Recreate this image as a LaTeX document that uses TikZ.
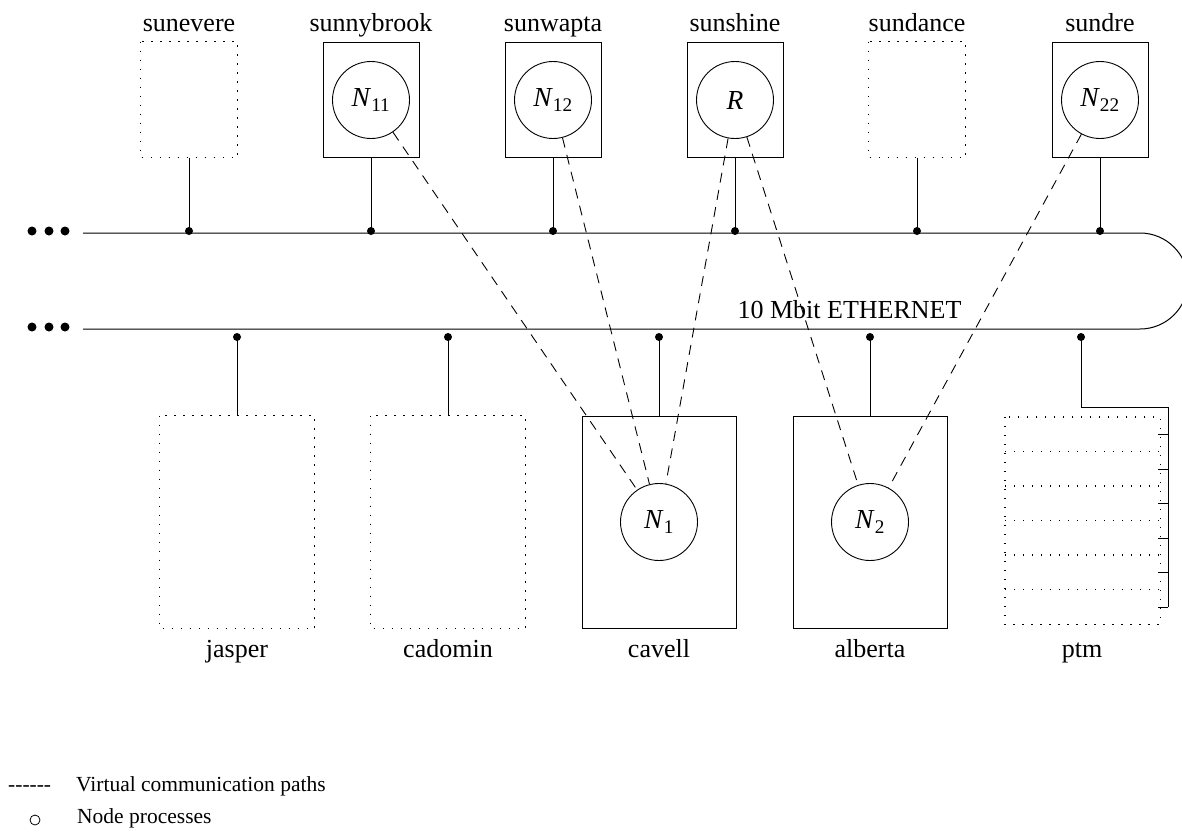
\documentclass[tikz,border=0pt]{standalone}
\usepackage{fontspec}
\setmainfont{Liberation Serif}
\newcommand{\procname}[2]{\textit{#1}\textsubscript{#2}}
\begin{document}
\begin{tikzpicture}[x=1pt,y=1pt,
  lbl/.style={font=\fontsize{26}{31}\selectfont, anchor=base, inner sep=0pt},
  keytext/.style={font=\fontsize{21.5}{25}\selectfont, anchor=base west, inner sep=0pt},
  wire/.style={line width=1pt},
  host/.style={draw, line width=1pt, minimum width=96pt, minimum height=115pt, inner sep=0pt},
  bighost/.style={draw, line width=1pt, minimum width=154pt, minimum height=212pt, inner sep=0pt},
  idle/.style={line width=1.4pt, dash pattern=on 1.4pt off 7.6pt},
  proc/.style={circle, draw, line width=0.9pt, minimum size=77pt, inner sep=0pt,
               font=\fontsize{27.5}{32}\selectfont},
  tap/.style={circle, fill, inner sep=0pt, minimum size=8pt},
  more/.style={circle, fill, inner sep=0pt, minimum size=9pt},
  vpath/.style={line width=0.9pt, dash pattern=on 10pt off 7.5pt}]

\useasboundingbox (0,0) rectangle (1182,-838);

% ---------- the Ethernet cable ----------
\draw[wire] (83,-233) -- (1140,-233) arc[start angle=90, end angle=-90, radius=48] -- (83,-329);
\foreach \y [count=\r] in {-231,-327}
  \foreach \x [count=\c] in {32,49,65}
    \node[more] (more\r\c) at (\x,\y) {};
\node[lbl] (eth) at (849.5,-318) {10 Mbit ETHERNET};

% ---------- hosts above the cable ----------
\foreach \x/\n in {189/sunevere, 371/sunnybrook, 553/sunwapta, 735/sunshine, 917/sundance, 1100/sundre}
  \node[lbl] (\n-name) at (\x,-31) {\n};

\node[host, draw=none] (sunevere) at (189,-99.5) {};
\draw[idle] (sunevere.north west) rectangle (sunevere.south east);
\node[host] (sunnybrook) at (371,-99.5) {};
\node[host] (sunwapta) at (553,-99.5) {};
\node[host] (sunshine) at (735,-99.5) {};
\node[host, draw=none] (sundance) at (917,-99.5) {};
\draw[idle] (sundance.north west) rectangle (sundance.south east);
\node[host] (sundre) at (1100,-99.5) {};

\node[proc] (N11) at (371,-100) {\procname{N}{11}};
\node[proc] (N12) at (553,-100) {\procname{N}{12}};
\node[proc] (R)   at (735,-100) {\textit{R}};
\node[proc] (N22) at (1100,-100) {\procname{N}{22}};

\foreach \x/\n in {189/sunevere, 371/sunnybrook, 553/sunwapta, 735/sunshine, 917/sundance, 1100/sundre} {
  \node[tap] (tap-\n) at (\x,-231) {};
  \draw[wire] (\n.south) -- (tap-\n.center);
}

% ---------- hosts below the cable ----------
\foreach \x/\n in {237/jasper, 448/cadomin, 659/cavell, 870/alberta, 1082/ptm}
  \node[lbl] (\n-name) at (\x,-657) {\n};

\node[bighost, draw=none] (jasper) at (237,-522) {};
\draw[idle] (jasper.north west) rectangle (jasper.south east);
\node[bighost, draw=none] (cadomin) at (448,-522) {};
\draw[idle] (cadomin.north west) rectangle (cadomin.south east);
\node[bighost] (cavell) at (659,-522) {};
\node[bighost] (alberta) at (870,-522) {};

\node[proc] (N1) at (659,-522) {\procname{N}{1}};
\node[proc] (N2) at (870,-522) {\procname{N}{2}};

\foreach \x/\n in {237/jasper, 448/cadomin, 659/cavell, 870/alberta} {
  \node[tap] (tap-\n) at (\x,-337) {};
  \draw[wire] (tap-\n.center) -- (\n.north);
}

% ptm: a stack of six units on one bus
\node[draw=none, minimum width=155pt, minimum height=207pt, inner sep=0pt] (ptm) at (1082.5,-520.5) {};
\draw[idle] (ptm.north west) rectangle (ptm.south east);
\foreach \y in {-451.5,-486,-520.5,-555,-589.5}
  \draw[idle] (1005,\y) -- (1160,\y);
\node[tap] (tap-ptm) at (1081,-337) {};
\coordinate (ptm-bus) at (1168,-607);
\draw[wire] (tap-ptm.center) -- (1081,-407) -- (1168,-407) -- (ptm-bus);
\foreach \y in {-434,-469,-503,-538,-572,-607}
  \draw[wire] (1158,\y) -- (1168,\y);

% ---------- virtual communication paths ----------
\draw[vpath] (N11) -- (N1);
\draw[vpath] (N12) -- (N1);
\draw[vpath] (R) -- (N1);
\draw[vpath] (R) -- (N2);
\draw[vpath] (N22) -- (N2);

% ---------- legend ----------
\node[keytext] (key-dash) at (8,-791) {-{}-{}-{}-{}-{}-};
\node[keytext] (key-dash-text) at (76,-791) {Virtual communication paths};
\node[circle, draw, line width=0.8pt, minimum size=10pt, inner sep=0pt] (key-circle) at (35,-820) {};
\node[keytext] (key-circle-text) at (77,-823) {Node processes};
\end{tikzpicture}
\end{document}
